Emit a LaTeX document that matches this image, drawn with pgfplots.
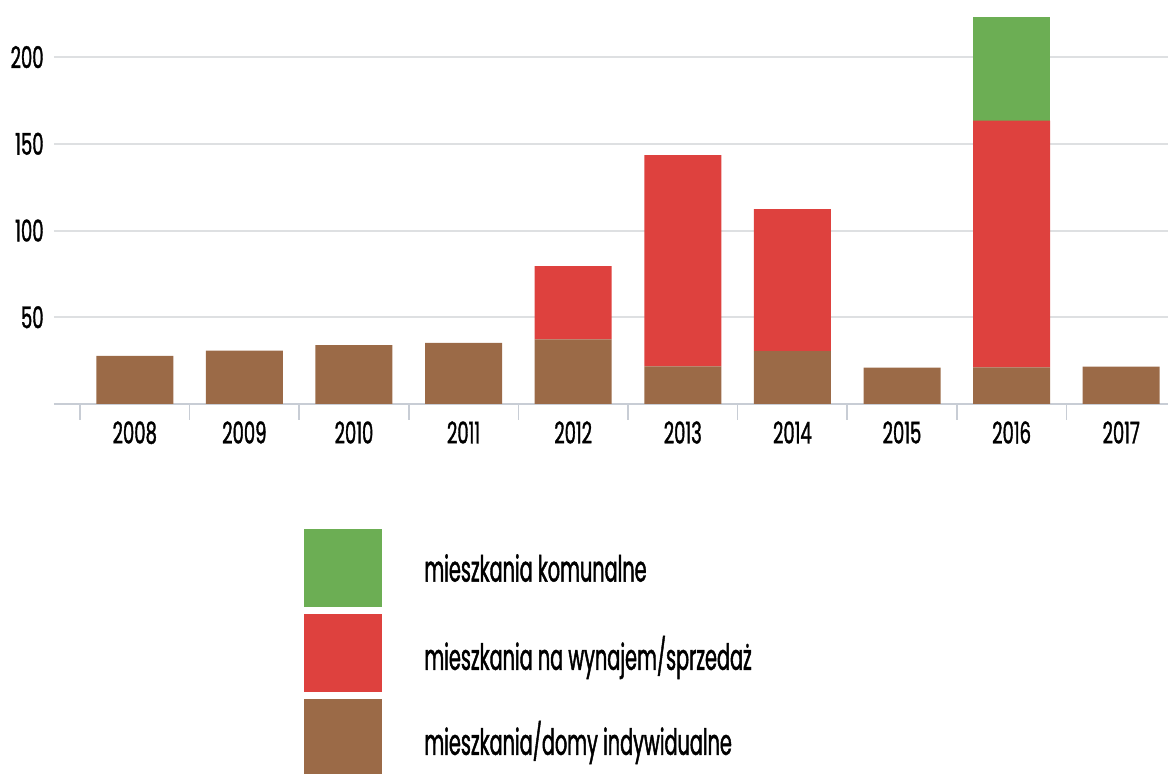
\documentclass[border=0pt]{standalone}
\usepackage{pgfplots}
\pgfplotsset{compat=1.18}
\usepackage{fontspec}
\setmainfont{Poppins}[FakeStretch=0.6, FakeBold=1.2]
\newfontfamily\legfont{Poppins}[FakeStretch=0.535, FakeBold=1.2]
\definecolor{cbrown}{RGB}{155,106,71}
\definecolor{cred}{RGB}{222,65,62}
\definecolor{cgreen}{RGB}{108,174,84}
\definecolor{cgrid}{RGB}{222,224,226}
\definecolor{caxis}{RGB}{200,205,213}
\begin{document}
\begin{tikzpicture}
\useasboundingbox (0,0) rectangle (584pt,387pt);
\clip (0,0) rectangle (584pt,387pt);
\begin{axis}[
  at={(27pt,185pt)}, anchor=south west,
  scale only axis, width=557pt, height=202pt,
  ybar stacked, bar width=0.7026,
  xmin=-0.737, xmax=9.427, ymin=0, ymax=232.9,
  xtick={0,1,2,3,4,5,6,7,8,9},
  xticklabels={2008,2009,2010,2011,2012,2013,2014,2015,2016,2017},
  minor xtick={-0.5,0.5,1.5,2.5,3.5,4.5,5.5,6.5,7.5,8.5,9.5},
  ytick={50,100,150,200},
  ymajorgrids, grid style={cgrid, line width=1pt},
  major tick length=0pt, minor tick length=8pt, tick align=outside,
  minor tick style={caxis, line width=0.75pt},
  axis x line*=bottom, axis y line*=left,
  x axis line style={draw=caxis, line width=1pt},
  y axis line style={draw=none},
  /pgf/number format/assume math mode=true,
  ticklabel style={font=\fontsize{15}{17}\selectfont},
  yticklabel style={anchor=east, inner sep=0pt, xshift=-5pt},
  xticklabel style={anchor=north, inner sep=0pt, yshift=-8.5pt},
  legend style={at={(axis description cs:0.2244,-0.3094)}, anchor=north west,
    draw=none, fill=none, inner sep=0pt, row sep=3.5pt,
    nodes={inner sep=0pt},
    font=\legfont\fontsize{18}{20}\selectfont,
    /tikz/every odd column/.append style={column sep=21pt}},
  legend cell align=left, reverse legend,
]
\addplot[fill=cbrown, draw=none, legend image code/.code={\fill[cbrown] (0pt,-19pt) rectangle (39pt,20pt);}]
  coordinates {(0,27.7) (1,30.7) (2,34.0) (3,35.2) (4,37.3) (5,21.7) (6,30.5) (7,20.9) (8,21.1) (9,21.5)};
\addplot[fill=cred, draw=none, legend image code/.code={\fill[cred] (0pt,-19pt) rectangle (39pt,20pt);}]
  coordinates {(0,0) (1,0) (2,0) (3,0) (4,42.2) (5,121.8) (6,81.9) (7,0) (8,142.2) (9,0)};
\addplot[fill=cgreen, draw=none, legend image code/.code={\fill[cgreen] (0pt,-19pt) rectangle (39pt,20pt);}]
  coordinates {(0,0) (1,0) (2,0) (3,0) (4,0) (5,0) (6,0) (7,0) (8,59.6) (9,0)};
\legend{mieszkania/domy indywidualne, mieszkania na wynajem/sprzedaż, mieszkania komunalne}
\end{axis}
\end{tikzpicture}
\end{document}
